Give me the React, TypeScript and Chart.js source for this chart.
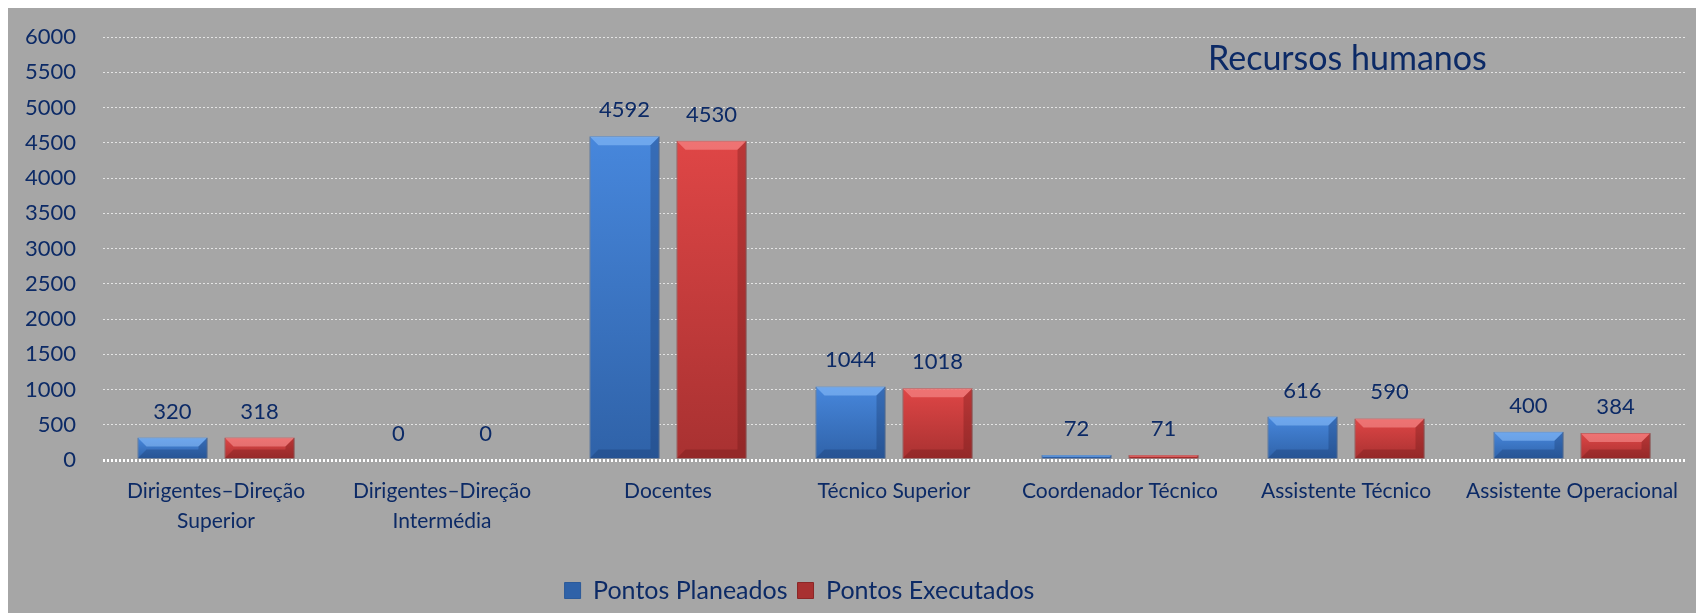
import React, { useEffect, useRef } from "react";
import { Chart, registerables } from "chart.js";

Chart.register(...registerables);

const categories: (string | string[])[] = [
  ["Dirigentes–Direção", "Superior"],
  ["Dirigentes–Direção", "Intermédia"],
  "Docentes",
  "Técnico Superior",
  "Coordenador Técnico",
  "Assistente Técnico",
  "Assistente Operacional",
];
const planeados = [320, 0, 4592, 1044, 72, 616, 400];
const executados = [318, 0, 4530, 1018, 71, 590, 384];
const seriesNames = ["Pontos Planeados", "Pontos Executados"];
const titleText = "Recursos humanos";

const NAVY = "#0c2a66";
const BG = "#a6a6a6";
const FONT = "Lato, 'Noto Sans', sans-serif";

const palettes = [
  { solid: "#3c7ad2", top: "#4787dc", bottom: "#2f62a8", light: "rgba(150,200,255,0.5)", dark: "rgba(20,50,100,0.3)", border: "#2b5a9a" },
  { solid: "#d63f3f", top: "#df4646", bottom: "#a83131", light: "rgba(255,160,160,0.5)", dark: "rgba(100,20,20,0.3)", border: "#8c2727" },
];

function makeBg(i: number) {
  const p = palettes[i];
  return (ctx: any) => {
    const chart = ctx.chart;
    if (ctx.type !== "data" || !chart.chartArea || !chart.scales.y) return p.solid;
    const ys = chart.scales.y;
    const top = ys.getPixelForValue(ctx.parsed.y);
    const bottom = ys.getPixelForValue(0);
    if (bottom - top < 2) return p.solid;
    const g = chart.ctx.createLinearGradient(0, top, 0, bottom);
    g.addColorStop(0, p.top);
    g.addColorStop(1, p.bottom);
    return g;
  };
}

const bevelPlugin = {
  id: "bevel",
  afterDatasetsDraw(chart: any) {
    const ctx = chart.ctx;
    chart.data.datasets.forEach((ds: any, di: number) => {
      const meta = chart.getDatasetMeta(di);
      const p = palettes[di];
      meta.data.forEach((el: any) => {
        const { x, y, base, width } = el.getProps(["x", "y", "base", "width"], true);
        const h = base - y;
        if (h < 1) return;
        const l = x - width / 2;
        const r = x + width / 2;
        const b = Math.min(9, h / 2);
        ctx.save();
        ctx.fillStyle = p.light;
        ctx.beginPath();
        ctx.moveTo(l, y);
        ctx.lineTo(r, y);
        ctx.lineTo(r - b, y + b);
        ctx.lineTo(l + b, y + b);
        ctx.closePath();
        ctx.fill();
        ctx.fillStyle = p.dark;
        ctx.beginPath();
        ctx.moveTo(r, y);
        ctx.lineTo(r, base);
        ctx.lineTo(r - b, base - b);
        ctx.lineTo(r - b, y + b);
        ctx.closePath();
        ctx.fill();
        ctx.beginPath();
        ctx.moveTo(l, base);
        ctx.lineTo(r, base);
        ctx.lineTo(r - b, base - b);
        ctx.lineTo(l + b, base - b);
        ctx.closePath();
        ctx.fill();
        ctx.restore();
      });
    });
  },
};

const labelsPlugin = {
  id: "valueLabels",
  afterDatasetsDraw(chart: any) {
    const ctx = chart.ctx;
    ctx.save();
    ctx.fillStyle = NAVY;
    ctx.font = `22px ${FONT}`;
    ctx.textAlign = "center";
    ctx.textBaseline = "middle";
    chart.data.datasets.forEach((ds: any, di: number) => {
      const meta = chart.getDatasetMeta(di);
      meta.data.forEach((el: any, i: number) => {
        ctx.fillText(String(ds.data[i]), el.x, el.y - 26);
      });
    });
    ctx.restore();
  },
};

const titlePlugin = {
  id: "innerTitle",
  afterDraw(chart: any) {
    const ctx = chart.ctx;
    ctx.save();
    ctx.fillStyle = NAVY;
    ctx.font = `34px ${FONT}`;
    ctx.textAlign = "left";
    ctx.textBaseline = "middle";
    ctx.fillText(titleText, 1202, 51);
    ctx.restore();
  },
};

const legendShiftPlugin = {
  id: "legendShift",
  afterLayout(chart: any) {
    const lg = chart.legend;
    if (lg) {
      lg.left -= 46;
      lg.right -= 46;
    }
  },
};

export default function App() {
  const ref = useRef<HTMLCanvasElement | null>(null);
  useEffect(() => {
    if (!ref.current) return;
    Chart.defaults.font.family = FONT;
    const chart = new Chart(ref.current, {
      type: "bar",
      data: {
        labels: categories,
        datasets: [
          {
            label: seriesNames[0],
            data: planeados,
            backgroundColor: makeBg(0),
            borderColor: palettes[0].border,
            borderWidth: 1,
            categoryPercentage: 0.77,
            barPercentage: 0.805,
          },
          {
            label: seriesNames[1],
            data: executados,
            backgroundColor: makeBg(1),
            borderColor: palettes[1].border,
            borderWidth: 1,
            categoryPercentage: 0.77,
            barPercentage: 0.805,
          },
        ],
      },
      options: {
        animation: false,
        responsive: false,
        maintainAspectRatio: false,
        layout: { padding: { top: 29, right: 12, bottom: 0, left: 0 } },
        plugins: {
          legend: {
            position: "bottom",
            labels: {
              color: NAVY,
              font: { size: 25, family: FONT },
              boxWidth: 16,
              boxHeight: 16,
              padding: 10,
            },
          },
          tooltip: { enabled: false },
          title: { display: false },
        },
        scales: {
          x: {
            grid: { display: false, drawTicks: false },
            border: { display: false },
            ticks: {
              color: NAVY,
              font: { size: 21, family: FONT, lineHeight: 1.4 },
              padding: 17,
              maxRotation: 0,
              autoSkip: false,
            },
            afterFit(scale: any) {
              scale.height = 108;
            },
          },
          y: {
            min: 0,
            max: 6000,
            grid: {
              drawTicks: true,
              tickLength: 27,
              tickColor: "rgba(0,0,0,0)",
              color: (c: any) => (c.tick && c.tick.value === 0 ? "#ffffff" : "rgba(255,255,255,0.7)"),
              lineWidth: (c: any) => (c.tick && c.tick.value === 0 ? 3 : 1),
            },
            border: { display: false, dash: [2, 2] },
            ticks: {
              stepSize: 500,
              color: NAVY,
              font: { size: 22, family: FONT },
              padding: 0,
              callback: (v: any) => String(v),
            },
            afterFit(scale: any) {
              scale.width = 97;
            },
          },
        },
      },
      plugins: [bevelPlugin, labelsPlugin, titlePlugin, legendShiftPlugin],
    } as any);
    return () => chart.destroy();
  }, []);
  return (
    <div style={{ marginLeft: -2, width: 1691, height: 605, background: BG }}>
      <canvas ref={ref} width={1691} height={605} style={{ display: "block" }} />
    </div>
  );
}
